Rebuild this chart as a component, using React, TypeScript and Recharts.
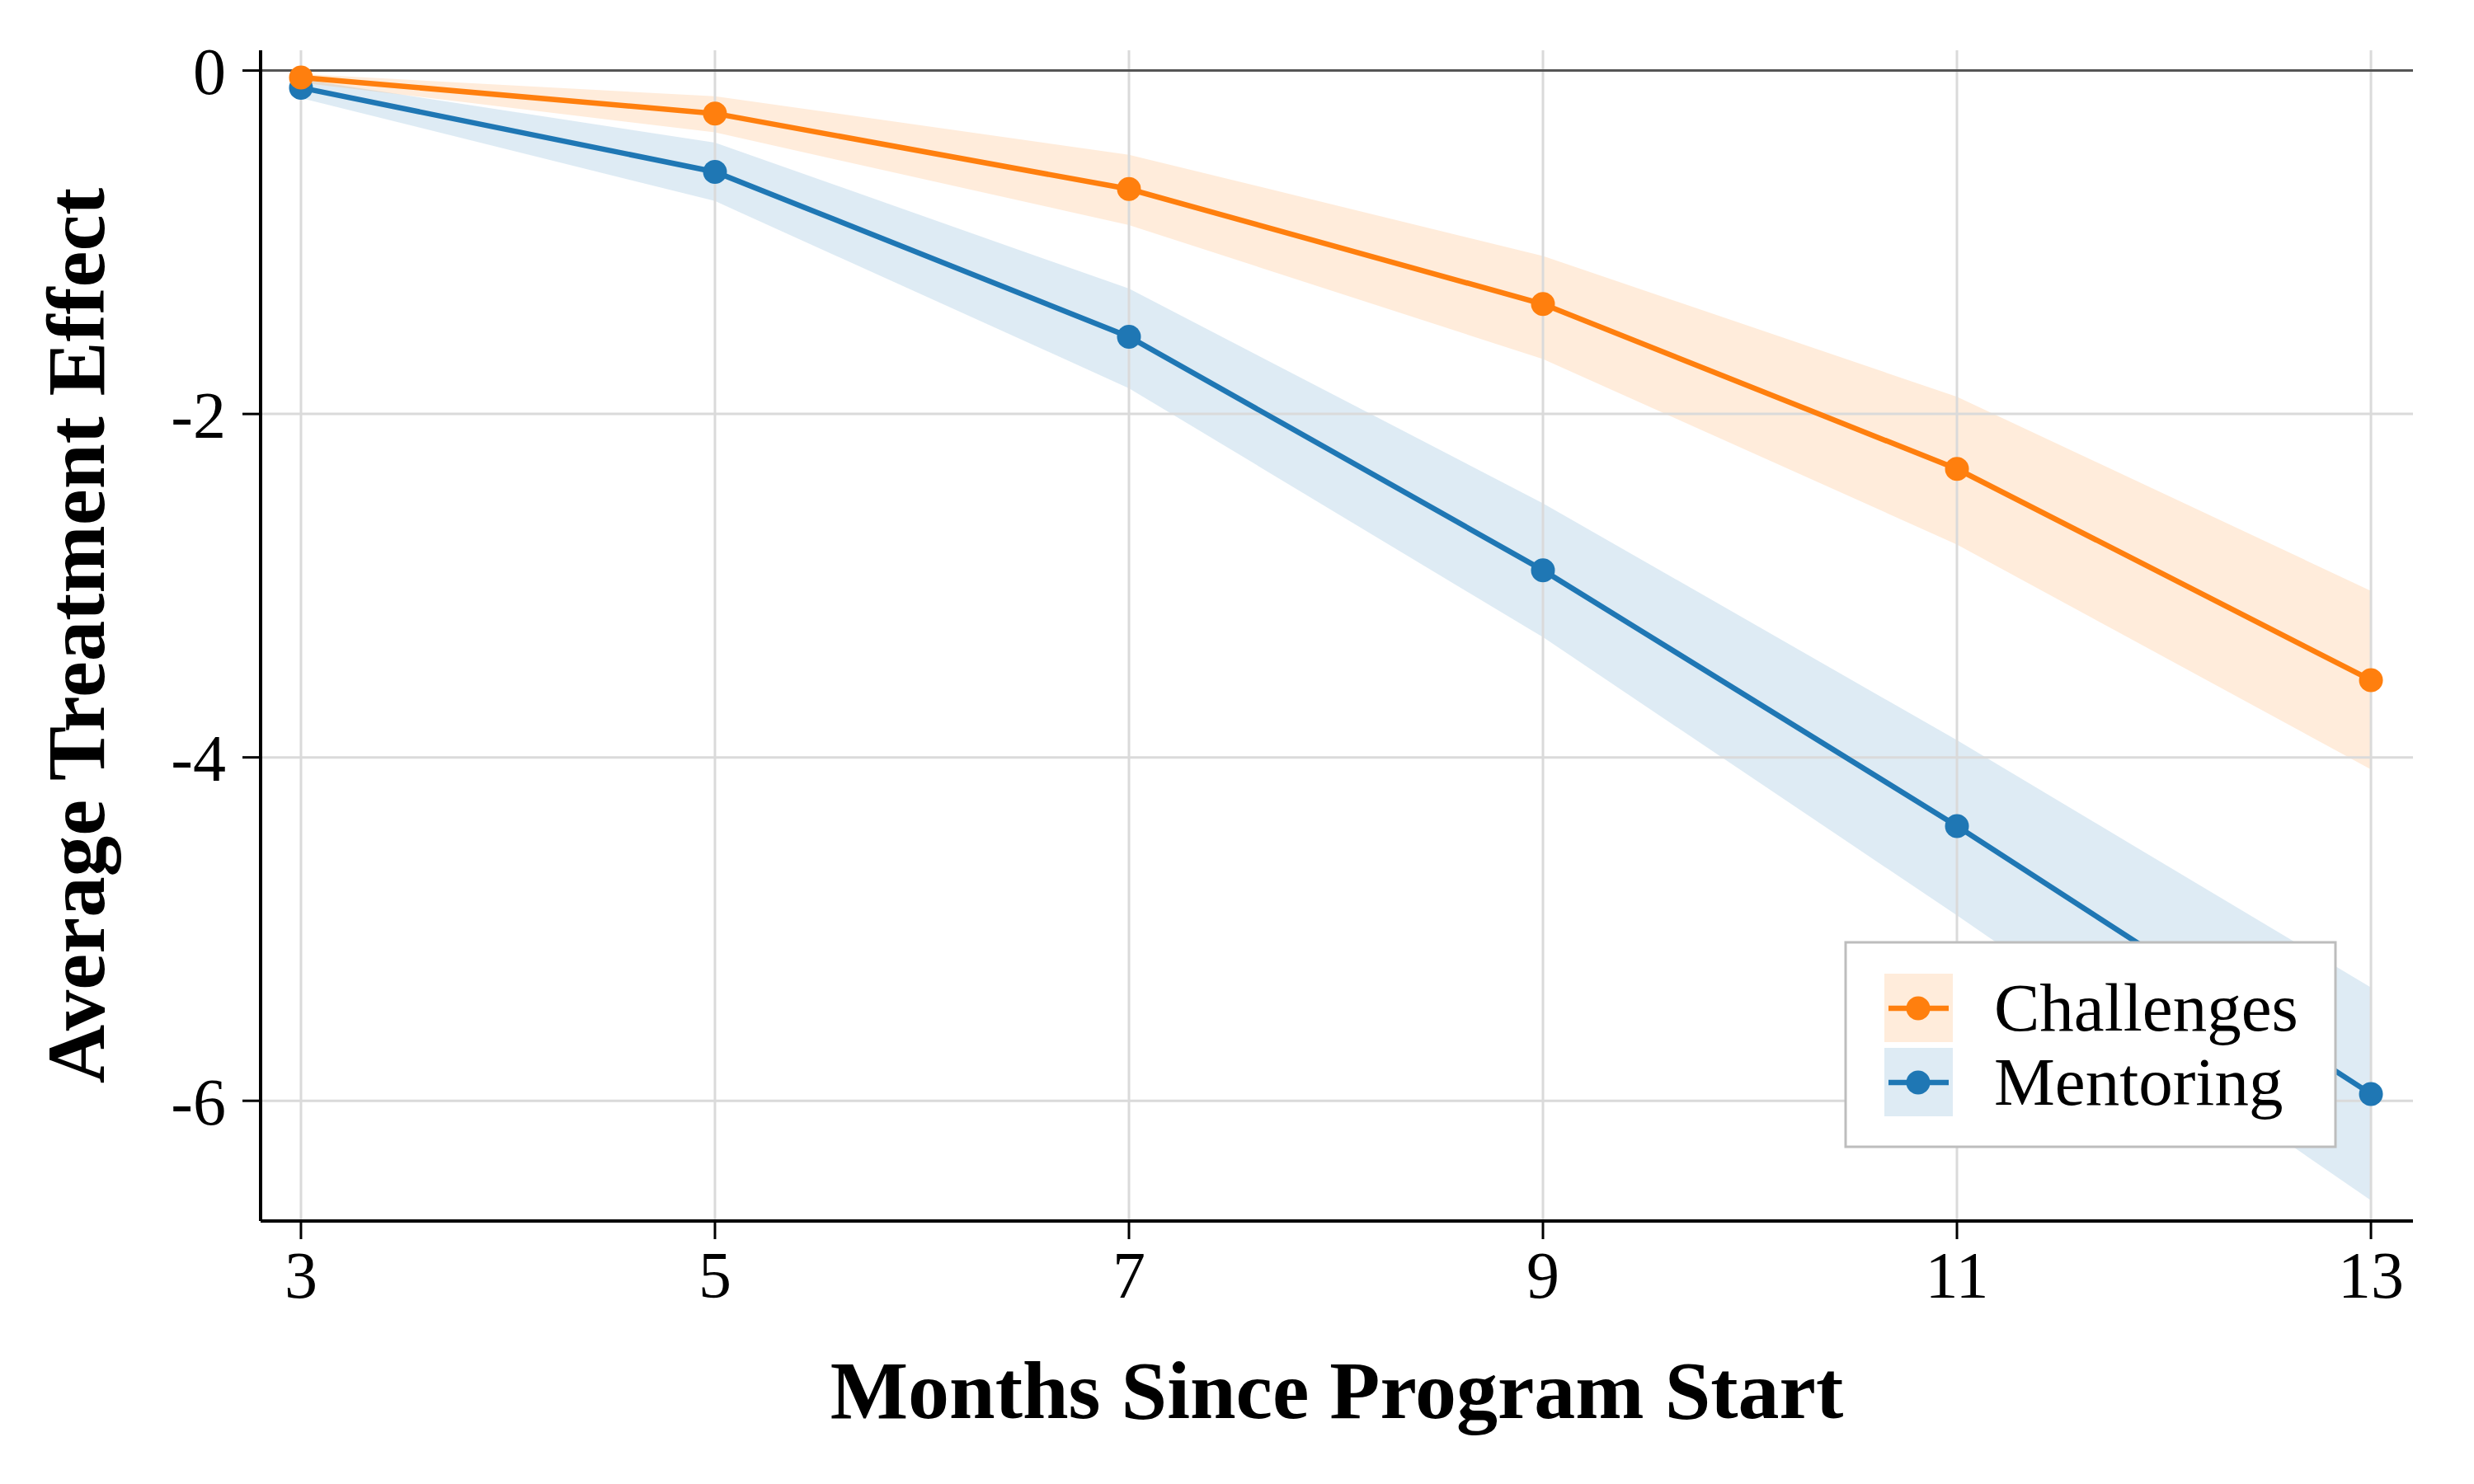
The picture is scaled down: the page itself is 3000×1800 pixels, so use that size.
import React from "react";
import {
  ComposedChart,
  Area,
  Line,
  XAxis,
  YAxis,
  ReferenceLine,
  Label,
} from "recharts";

// values
const months = [3, 5, 7, 9, 11, 13];
const challenges = [-0.04, -0.25, -0.69, -1.36, -2.32, -3.55];
const challengesLo = [-0.07, -0.36, -0.9, -1.68, -2.76, -4.07];
const challengesHi = [-0.02, -0.15, -0.49, -1.08, -1.9, -3.03];
const mentoring = [-0.1, -0.59, -1.55, -2.91, -4.4, -5.96];
const mentoringLo = [-0.16, -0.76, -1.85, -3.3, -4.92, -6.58];
const mentoringHi = [-0.05, -0.42, -1.27, -2.52, -3.9, -5.34];
const yTicks = [0, -2, -4, -6];

const ORANGE = "#ff7f0e";
const BLUE = "#1f77b4";
const GRID = "#dadada";
const FONT = '"Liberation Serif", "DejaVu Serif", serif';

const rows = months.map((m, i) => ({
  month: m,
  challenges: challenges[i],
  challengesBand: [challengesLo[i], challengesHi[i]],
  mentoring: mentoring[i],
  mentoringBand: [mentoringLo[i], mentoringHi[i]],
}));

const W = 3000;
const H = 1800;
const Y_AXIS_W = 200;
const X_AXIS_H = 200;
const margin = { top: 61, right: 74, left: 316 - Y_AXIS_W, bottom: H - 1481 - X_AXIS_H };

const legendItems = [
  { name: "Challenges", color: ORANGE },
  { name: "Mentoring", color: BLUE },
];

const LegendBox = () => (
  <svg
    width={W}
    height={H}
    style={{ position: "absolute", left: 0, top: 0, pointerEvents: "none" }}
  >
    <rect x={2238} y={1143} width={594} height={248} fill="#fff" stroke="#bdbdbd" strokeWidth={3} />
    {legendItems.map((it, i) => {
      const cy = 1223 + i * 90;
      return (
        <g key={it.name}>
          <rect x={2285} y={cy - 42} width={83} height={83} fill={it.color} fillOpacity={0.15} />
          <line x1={2290} x2={2363} y1={cy} y2={cy} stroke={it.color} strokeWidth={6.5} />
          <circle cx={2326} cy={cy} r={14.5} fill={it.color} />
          <text x={2418} y={cy + 27} fontSize={83} fontFamily={FONT} fill="#000">
            {it.name}
          </text>
        </g>
      );
    })}
  </svg>
);

export default function App() {
  return (
    <div
      style={{
        position: "absolute",
        left: 0,
        top: 0,
        width: W,
        height: H,
        background: "#fff",
        fontFamily: FONT,
      }}
    >
      <ComposedChart width={W} height={H} data={rows} margin={margin}>
        <XAxis
          dataKey="month"
          type="number"
          domain={[2.805, 13.203]}
          allowDataOverflow
          ticks={months}
          height={X_AXIS_H}
          tickSize={22}
          tickMargin={14}
          axisLine={{ stroke: "#000", strokeWidth: 4 }}
          tickLine={{ stroke: "#000", strokeWidth: 3 }}
          tick={{ fill: "#000", fontSize: 80, fontFamily: FONT }}
        >
          <Label
            content={({ viewBox }: any) => (
              <text
                x={viewBox.x + viewBox.width / 2}
                y={1720}
                textAnchor="middle"
                fontSize={100}
                fontWeight="bold"
                fontFamily={FONT}
                fill="#000"
              >
                Months Since Program Start
              </text>
            )}
          />
        </XAxis>
        <YAxis
          type="number"
          domain={[-6.7, 0.118]}
          allowDataOverflow
          ticks={yTicks}
          width={Y_AXIS_W}
          tickSize={22}
          tickMargin={20}
          axisLine={{ stroke: "#000", strokeWidth: 4 }}
          tickLine={{ stroke: "#000", strokeWidth: 3 }}
          tick={{ fill: "#000", fontSize: 80, fontFamily: FONT }}
        >
          <Label
            content={({ viewBox }: any) => {
              const cy = viewBox.y + viewBox.height / 2;
              return (
                <text
                  x={92}
                  y={cy}
                  transform={`rotate(-90 92 ${cy})`}
                  textAnchor="middle"
                  dominantBaseline="central"
                  fontSize={99}
                  fontWeight="bold"
                  fontFamily={FONT}
                  fill="#000"
                >
                  Average Treatment Effect
                </text>
              );
            }}
          />
        </YAxis>
        {/* grid lines at the tick positions only */}
        {months.map((m) => (
          <ReferenceLine key={`gx${m}`} x={m} stroke={GRID} strokeWidth={3} />
        ))}
        {yTicks.map((t) => (
          <ReferenceLine key={`gy${t}`} y={t} stroke={GRID} strokeWidth={3} />
        ))}
        <ReferenceLine y={0} stroke="#555" strokeWidth={3} />
        <Area
          type="linear"
          dataKey="mentoringBand"
          stroke="none"
          fill={BLUE}
          fillOpacity={0.15}
          isAnimationActive={false}
          activeDot={false}
        />
        <Area
          type="linear"
          dataKey="challengesBand"
          stroke="none"
          fill={ORANGE}
          fillOpacity={0.15}
          isAnimationActive={false}
          activeDot={false}
        />
        <Line
          type="linear"
          dataKey="mentoring"
          stroke={BLUE}
          strokeWidth={6.5}
          dot={{ r: 14.5, fill: BLUE, stroke: "none" }}
          activeDot={false}
          isAnimationActive={false}
        />
        <Line
          type="linear"
          dataKey="challenges"
          stroke={ORANGE}
          strokeWidth={6.5}
          dot={{ r: 14.5, fill: ORANGE, stroke: "none" }}
          activeDot={false}
          isAnimationActive={false}
        />
      </ComposedChart>
      <LegendBox />
    </div>
  );
}
